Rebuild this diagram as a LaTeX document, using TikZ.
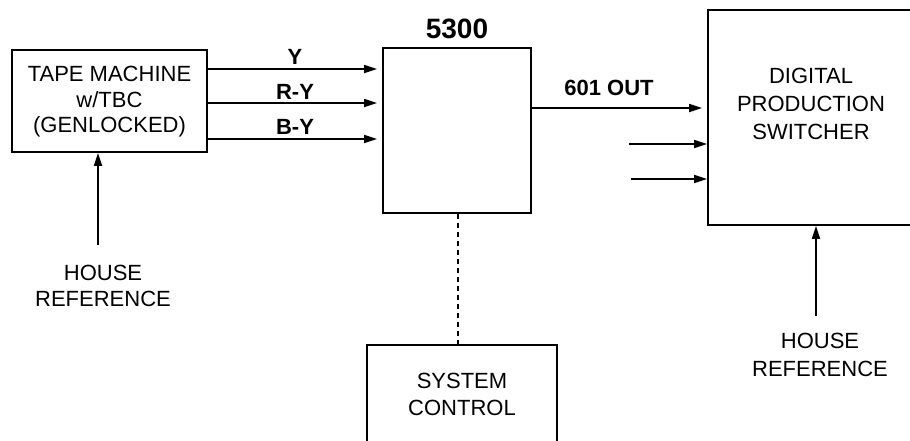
\documentclass[tikz,border=0pt]{standalone}
\usepackage{fontspec}
\setmainfont{Liberation Sans}
\usetikzlibrary{arrows.meta}
\begin{document}
\begin{tikzpicture}[x=1pt,y=-1pt,
  box/.style={draw, line width=1.7pt, inner sep=0pt},
  txt/.style={font=\fontsize{22}{25.5}\selectfont, align=center, inner sep=0pt},
  lbl/.style={font=\fontsize{22}{26}\selectfont\bfseries, inner sep=0pt},
  arr/.style={line width=1.7pt, -{Triangle[length=13pt,width=8pt]}},
  ]
\clip (0,0) rectangle (910,440);
% boxes
\node[box, minimum width=195pt, minimum height=102pt] (tape) at (109.5,101) {};
\node[box, minimum width=148pt, minimum height=165pt] (p5300) at (457,130.5) {};
\node[box, minimum width=210pt, minimum height=215pt] (sw) at (813,117.5) {};
\node[box, minimum width=190pt, minimum height=120pt] (sys) at (462,405) {};
% texts
\node[txt] (tapetxt) at (109.5,102) {TAPE MACHINE\\w/TBC\\(GENLOCKED)};
\node[txt, font=\fontsize{22}{28}\selectfont] (swtxt) at (811,104) {DIGITAL\\PRODUCTION\\SWITCHER};
\node[txt, font=\fontsize{22}{27}\selectfont] (systxt) at (462,394) {SYSTEM\\CONTROL};
\node[txt] (hl) at (103,286) {HOUSE\\REFERENCE};
\node[txt, font=\fontsize{22}{28}\selectfont] (hr) at (820,355) {HOUSE\\REFERENCE};
\node[lbl, font=\fontsize{28}{30}\selectfont\bfseries] (t5300) at (457,29) {5300};
\node[lbl] (lY) at (295,57) {Y};
\node[lbl] (lRY) at (295,92) {R-Y};
\node[lbl] (lBY) at (295,127) {B-Y};
\node[lbl] (l601) at (609,88) {601 OUT};
% coordinates
\coordinate (yY) at (0,69);
\coordinate (yRY) at (0,103);
\coordinate (yBY) at (0,139);
\coordinate (y601) at (0,108);
\coordinate (in1) at (629,144);
\coordinate (in2) at (631,179);
\coordinate (hlTop) at (98,245);
\coordinate (hrTop) at (816,316);
\coordinate (dx) at (458,0);
% connectors
\draw[arr] (tape.east |- yY) -- ([xshift=-5pt]p5300.west |- yY);
\draw[arr] (tape.east |- yRY) -- ([xshift=-5pt]p5300.west |- yRY);
\draw[arr] (tape.east |- yBY) -- ([xshift=-5pt]p5300.west |- yBY);
\draw[arr] (p5300.east |- y601) -- ([xshift=-5pt]sw.west |- y601);
\draw[arr] (in1) -- (sw.west |- in1);
\draw[arr] (in2) -- (sw.west |- in2);
\draw[arr] (hlTop) -- (tape.south -| hlTop);
\draw[arr] (hrTop) -- (sw.south -| hrTop);
\draw[line width=1.7pt, dash pattern=on 5pt off 4pt] (p5300.south -| dx) -- (sys.north -| dx);
\end{tikzpicture}
\end{document}
